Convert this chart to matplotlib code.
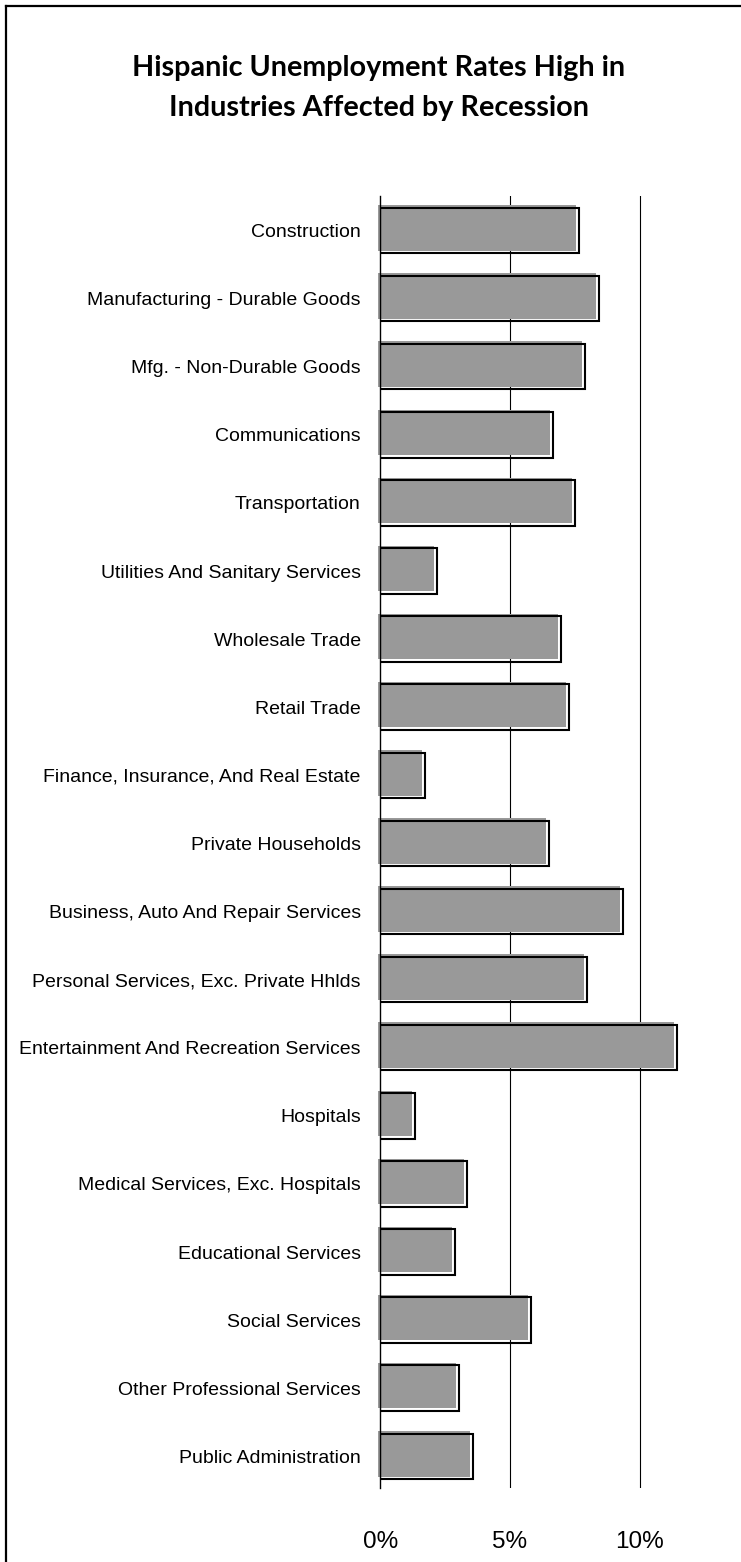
import matplotlib
matplotlib.use('Agg')
import matplotlib.pyplot as plt
from matplotlib.lines import Line2D
from matplotlib.transforms import ScaledTranslation

# data (percent)
industries = [
    'Construction', 'Manufacturing - Durable Goods', 'Mfg. - Non-Durable Goods',
    'Communications', 'Transportation', 'Utilities And Sanitary Services',
    'Wholesale Trade', 'Retail Trade', 'Finance, Insurance, And Real Estate',
    'Private Households', 'Business, Auto And Repair Services',
    'Personal Services, Exc. Private Hhlds', 'Entertainment And Recreation Services',
    'Hospitals', 'Medical Services, Exc. Hospitals', 'Educational Services',
    'Social Services', 'Other Professional Services', 'Public Administration',
]
rates = [7.65, 8.42, 7.88, 6.65, 7.49, 2.17, 6.95, 7.26, 1.71, 6.49,
         9.34, 7.96, 11.43, 1.33, 3.33, 2.87, 5.80, 3.02, 3.56]
xticks = [0, 5, 10]
xticklabels = ['0%', '5%', '10%']
title = 'Hispanic Unemployment Rates High in\nIndustries Affected by Recession'

LABEL_FONT = ['Liberation Sans', 'DejaVu Sans']
W, H, DPI = 741, 1562, 100

fig = plt.figure(figsize=(W / DPI, H / DPI), dpi=DPI)
ax = fig.add_axes([380.3 / W, 1 - 1488 / H, (691.6 - 380.3) / W, (1488 - 195.7) / H])

ypos = list(range(len(industries)))
bar_h = 0.668

# gridlines behind the bars
for xv in xticks[1:]:
    ax.axvline(xv, color='black', lw=0.8, zorder=0)

# grey fill slightly up-left, black outline on top
off = ScaledTranslation(-2.5 / DPI, 2.5 / DPI, fig.dpi_scale_trans)
ax.barh(ypos, rates, height=bar_h, color='#999999', edgecolor='none',
        transform=ax.transData + off, zorder=2, clip_on=False)
ax.barh(ypos, rates, height=bar_h, fill=False, edgecolor='black', lw=1.5, zorder=3)

ax.set_xlim(0, 12)
ax.set_ylim(18.465, -0.511)

for s in ['top', 'right', 'bottom']:
    ax.spines[s].set_visible(False)
ax.spines['left'].set_linewidth(1.0)
ax.spines['left'].set_zorder(4)

ax.set_yticks(ypos)
ax.set_yticklabels(industries, family=LABEL_FONT, fontsize=14)
ax.set_xticks(xticks)
ax.set_xticklabels(xticklabels, family=LABEL_FONT, fontsize=17.5)
ax.tick_params(axis='y', length=0, pad=14)
ax.tick_params(axis='x', length=0, pad=31)

fig.text(379 / W, 1 - 88 / H, title, ha='center', va='center', family=['Lato', 'DejaVu Sans'],
         fontweight='bold', fontsize=20.7, linespacing=1.62)

# frame lines (top and left only)
fig.add_artist(Line2D([6 / W, 1], [1 - 6 / H, 1 - 6 / H], color='black', lw=1.6))
fig.add_artist(Line2D([6 / W, 6 / W], [0, 1 - 6 / H], color='black', lw=1.6))

fig.savefig('out.png', dpi=DPI)
